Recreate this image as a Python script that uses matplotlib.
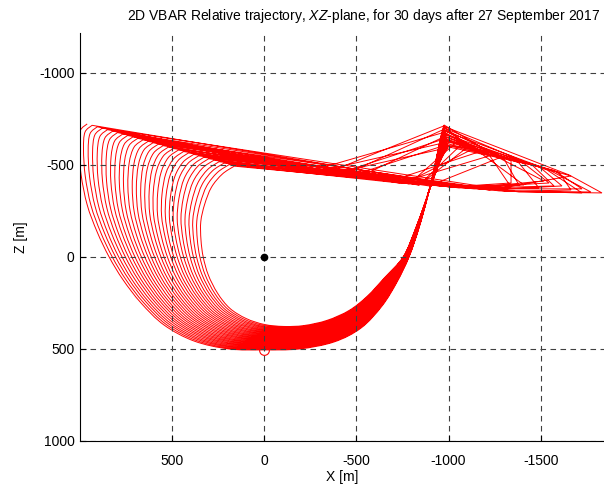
import numpy as np
import matplotlib
matplotlib.use("Agg")
import matplotlib.pyplot as plt
from matplotlib.path import Path
from matplotlib.patches import PathPatch

plt.rcParams['font.family'] = ['Liberation Sans', 'DejaVu Sans']
plt.rcParams['mathtext.fontset'] = 'custom'
plt.rcParams['mathtext.rm'] = 'Liberation Sans'
plt.rcParams['mathtext.it'] = 'Liberation Sans:italic'
plt.rcParams['axes.unicode_minus'] = False

nan = np.nan

# slow arc of the first orbit: top corner -> left side -> bottom -> right branch -> cusp
outer_x = [959, 997, 1003, 992, 959, 905, 840, 764, 667, 542, 379, 190,
           0, -190, -379, -526, -640, -721, -786, -840, -889, -932, -959, -976]
outer_z = [-723, -685, -592, -446, -283, -136, 0, 125, 250, 370, 457, 500,
           505, 500, 462, 386, 266, 136, 0, -158, -337, -527, -658, -717]

# same arc for the last orbit
inner_x = [146, 211, 271, 309, 331, 331, 320, 293, 244, 179, 92, -5,
           -108, -217, -341, -461, -558, -650, -753, -818, -878, -927, -965, -997]
inner_z = [-489, -446, -375, -283, -190, -92, 0, 98, 196, 277, 332, 364,
           375, 370, 342, 288, 212, 114, 0, -147, -310, -446, -538, -592]

# where each orbit's left side crosses Z = 0
left_cross = [840, 823, 805, 788, 770, 752, 735, 717, 700, 682,
              665, 647, 629, 612, 594, 577, 559, 542, 524, 506,
              489, 471, 454, 436, 419, 401, 383, 366, 348, 330]

# coarse samples of the fast pass after each cusp (nan = no sample there)
env_x = [-1274, nan, -1653, -1111, -1453, nan, -1339, -1220, -1545, nan,
         -1165, -1057, -1534, -1382, nan, -1274, -1599, nan, -1409, -1165,
         -1490, -1301, nan, -1084, -1572, nan, -1220, -1138, -1453, nan]
env_z = [-538, nan, -446, -603, -500, nan, -522, -549, -473, nan,
         -571, -636, -473, -511, nan, -538, -460, nan, -508, -571,
         -492, -532, nan, -625, -470, nan, -555, -590, -500, nan]
tip_x = [-1518, nan, -1832, nan, -1664, nan, -1339, nan, -1772, nan,
         -1409, nan, -1724, -1490, nan, nan, -1664, nan, -1545, nan,
         -1615, -1382, nan, nan, -1724, nan, -1339, nan, -1572, nan]
tip_z = [-413, nan, -348, nan, -440, nan, -402, nan, -353, nan,
         -391, nan, -348, -375, nan, nan, -364, nan, -402, nan,
         -386, -391, nan, nan, -370, nan, -380, nan, -386, nan]
band_x = [-1111, -352, -1382, -840, -1220, -434, -1003, -732, -1301, -271,
          -949, -786, -1274, -1165, -515, -894, -1338, -396, -1057, -678,
          -1220, -1030, -310, -840, -1138, -470, -949, -760, -1111, -380]
band_z = [-375, -462, -353, -391, -364, -446, -380, -402, -359, -473,
          -386, -397, -359, -370, -435, -386, -356, -452, -375, -410,
          -364, -378, -468, -391, -370, -440, -386, -399, -373, -455]

start_xz = (0, 505)
target_xz = (0, 0)


def add_smooth(verts, codes, pts):
    # Catmull-Rom through the arc points, drawn as cubic Bezier pieces
    for i in range(len(pts) - 1):
        p0 = pts[max(i - 1, 0)]
        p3 = pts[min(i + 2, len(pts) - 1)]
        verts += [pts[i] + (pts[i + 1] - p0) / 6, pts[i + 1] - (p3 - pts[i]) / 6, pts[i + 1]]
        codes += [Path.CURVE4] * 3


outer = np.column_stack([outer_x, outer_z]).astype(float)
inner = np.column_stack([inner_x, inner_z]).astype(float)
drift = (left_cross[0] - np.array(left_cross)) / (outer_x[6] - inner_x[6])

verts, codes = [], []
for k, w in enumerate(drift):
    arc = outer + w * (inner - outer)
    verts.append(arc[0])
    codes.append(Path.MOVETO if k == 0 else Path.LINETO)
    add_smooth(verts, codes, arc)
    for px, pz in [(env_x[k], env_z[k]), (tip_x[k], tip_z[k]), (band_x[k], band_z[k])]:
        if not np.isnan(px):
            verts.append(np.array([px, pz]))
            codes.append(Path.LINETO)

fig = plt.figure(figsize=(6.04, 4.86), dpi=100)
ax = fig.add_axes([80 / 604, 45 / 486, 524 / 604, 408 / 486])

ax.add_patch(PathPatch(Path(np.array(verts), codes), fill=False, ec='red', lw=0.7))
ax.plot(*target_xz, 'o', color='k', ms=4.5)
ax.plot(*start_xz, 'o', mfc='none', mec='red', ms=7, mew=0.8)

ax.set_xlim(998, -1843)
ax.set_ylim(1000, -1217)
ax.set_xticks([500, 0, -500, -1000, -1500])
ax.set_yticks([-1000, -500, 0, 500, 1000])
ax.grid(True, color='0.25', lw=0.8, ls=(0, (5, 4)))
ax.tick_params(direction='in', length=4, labelsize=10)
ax.tick_params(axis='x', pad=9)
ax.tick_params(axis='y', pad=4)
for s in ['top', 'right']:
    ax.spines[s].set_visible(False)
for s in ['left', 'bottom']:
    ax.spines[s].set_linewidth(0.8)

ax.set_xlabel('X [m]', fontsize=10, labelpad=2)
ax.set_ylabel('Z [m]', fontsize=10, labelpad=8)
fig.text(364 / 604, 1 - 16 / 486,
         r'2D VBAR Relative trajectory, $\mathit{XZ}$-plane, for 30 days after 27 September 2017',
         ha='center', va='center', fontsize=10)

fig.savefig('out.png', dpi=100)
